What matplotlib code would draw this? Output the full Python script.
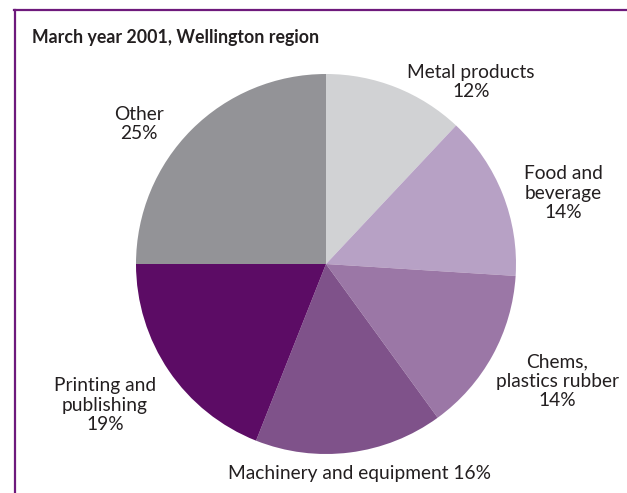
import matplotlib.pyplot as plt
from matplotlib.lines import Line2D

# ------------------------------------------
# DATOS
# ------------------------------------------
industries = ["Metal products", "Food and beverage", "Chems, plastics rubber",
              "Machinery and equipment", "Printing and publishing", "Other"]
shares = [12, 14, 14, 16, 19, 25]
label_texts = ["Metal products\n12%", "Food and\nbeverage\n14%",
               "Chems,\nplastics rubber\n14%", "Machinery and equipment 16%",
               "Printing and\npublishing\n19%", "Other\n25%"]
title = "March year 2001, Wellington region"

colors = ["#d1d2d4", "#b7a1c5", "#9b77a6", "#7f528a", "#5c0c65", "#939397"]
text_color = "#231f20"
frame_color = "#6e1a7c"

plt.rcParams['font.family'] = ['Lato', 'DejaVu Sans']

W, H = 627, 493
fig = plt.figure(figsize=(W / 100, H / 100), dpi=100)

# pie: centre (326, 264) px, radius 190 px
cx, cy, r = 326, 264, 190
ax = fig.add_axes([(cx - r) / W, (H - cy - r) / H, 2 * r / W, 2 * r / H])
ax.pie(shares, colors=colors, startangle=90, counterclock=False,
       radius=1, wedgeprops=dict(linewidth=0))
ax.set_xlim(-1, 1)
ax.set_ylim(-1, 1)
ax.set_aspect("auto")
ax.axis("off")

# label positions in pixels (x centre, y centre)
label_pos = [(471, 82), (563, 193), (557, 381), (360, 473), (105, 405), (139, 124)]
for txt, (x, y) in zip(label_texts, label_pos):
    fig.text(x / W, 1 - y / H, txt, ha="center", va="center", fontsize=13.8,
             color=text_color, linespacing=1.15)

fig.text(32 / W, 1 - 38 / H, title, ha="left", va="center", fontsize=12.8,
         fontweight="bold", color=text_color)

# marco morado
fig.add_artist(Line2D([14 / W, 1], [1 - 10 / H, 1 - 10 / H], color=frame_color,
                      linewidth=1.6, transform=fig.transFigure))
fig.add_artist(Line2D([15.5 / W, 15.5 / W], [0, 1 - 10 / H], color=frame_color,
                      linewidth=1.6, transform=fig.transFigure))

fig.savefig("out.png", dpi=100)
plt.close(fig)
